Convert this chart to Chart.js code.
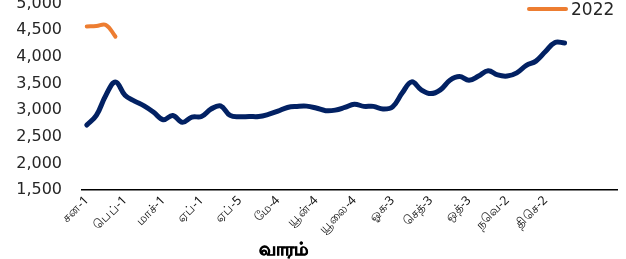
<!DOCTYPE html>
<html>
<head>
<meta charset="utf-8">
<script src="https://cdn.jsdelivr.net/npm/chart.js@4"></script>
<style>
  html, body { margin: 0; padding: 0; background: #fff; }
  #wrap { position: relative; width: 626px; height: 259px; overflow: hidden; }
  #c { position: absolute; left: 0; top: -26px; }
  #legend { position: absolute; left: 527px; top: 0px; height: 18px; display: flex; align-items: center;
            font-family: "DejaVu Sans", sans-serif; font-size: 17px; color: #262626; }
  #legend .ln { width: 41px; height: 4px; border-radius: 2px; background: #ED7D31; margin-right: 3px; }
  #xtitle { position: absolute; left: 283px; top: 236px; transform: translateX(-50%);
            font-family: "Noto Sans", "DejaVu Sans", sans-serif; font-weight: bold; font-size: 18px; color: #000;
            -webkit-text-stroke: 0.6px #000; }
</style>
</head>
<body>
<div id="wrap">
  <canvas id="c" width="626" height="285"></canvas>
  <div id="legend"><span class="ln"></span><span>2022</span></div>
  <div id="xtitle">வாரம்</div>
</div>
<script>
// Tick labels shown every 4 weeks
const tickLabels = ["சன-1","பெப்-1","மாச்-1","ஏப்-1","ஏப்-5","மே-4","யூன்-4","யூலை-4","ஓக-3","செத்-3","ஒத்-3","நவெ-2","திசெ-2"];
const weekCount = 56;
// Series values (weekly)
const series2022 = [4570, 4580, 4600, 4380];
const seriesMain = [2720, 2900, 3280, 3530, 3280, 3170, 3080, 2960, 2820, 2900,
                    2770, 2870, 2880, 3020, 3080, 2900, 2875, 2880, 2880, 2920,
                    2980, 3050, 3070, 3075, 3040, 2990, 3000, 3050, 3110, 3070,
                    3070, 3020, 3060, 3320, 3530, 3380, 3310, 3380, 3560, 3630,
                    3560, 3640, 3740, 3660, 3640, 3700, 3840, 3920, 4100, 4270, 4260];
const yTicks = [1500, 2000, 2500, 3000, 3500, 4000, 4500, 5000];

const categories = [];
for (let i = 0; i < weekCount; i++) {
  categories.push(i % 4 === 0 && i / 4 < tickLabels.length ? tickLabels[i / 4] : "");
}

const X_AXIS_H = 69;
const canvas = document.getElementById('c');
const chart = new Chart(canvas, {
  type: 'line',
  data: {
    labels: categories,
    datasets: [
      { label: 'main', data: seriesMain, borderColor: '#022163', borderWidth: 5,
        pointRadius: 0, tension: 0.4, borderCapStyle: 'round', borderJoinStyle: 'round', fill: false },
      { label: '2022', data: series2022, borderColor: '#ED7D31', borderWidth: 4,
        pointRadius: 0, tension: 0.4, borderCapStyle: 'round', borderJoinStyle: 'round', fill: false }
    ]
  },
  options: {
    responsive: false,
    maintainAspectRatio: false,
    animation: false,
    layout: { padding: { top: 0, left: 16, right: 4, bottom: 0 } },
    plugins: { legend: { display: false }, tooltip: { enabled: false } },
    scales: {
      x: {
        offset: true,
        grid: { display: false, drawTicks: false },
        border: { display: true, color: '#000', width: 1.5 },
        ticks: {
          autoSkip: false, maxRotation: 45, minRotation: 45, padding: 3,
          color: '#111', font: { family: '"Noto Sans", "DejaVu Sans", sans-serif', size: 12.5 }
        },
        afterFit: (s) => { s.height = X_AXIS_H; }
      },
      y: {
        min: 1500, max: 5000,
        grid: { display: false, drawTicks: false },
        border: { display: false },
        afterBuildTicks: (s) => { s.ticks = yTicks.map(v => ({ value: v })); },
        ticks: {
          padding: 20, color: '#262626',
          font: { family: '"DejaVu Sans", sans-serif', size: 16 },
          callback: (v) => v.toLocaleString('en-US')
        },
        afterFit: (s) => { s.width = 66; }
      }
    }
  }
});

// Place plot area: top (5,000) at y=3.4, bottom (1,500 axis) at y=190 in the window
const wantTop = 3.4, wantBottom = 190;
for (let k = 0; k < 3; k++) {
  const T = chart.chartArea.top, B = chart.chartArea.bottom;
  const H = Math.round(canvas.height + (wantBottom - wantTop) - (B - T));
  if (H !== canvas.height) chart.resize(626, H);
}
canvas.style.top = (wantTop - chart.chartArea.top) + 'px';
</script>
</body>
</html>
